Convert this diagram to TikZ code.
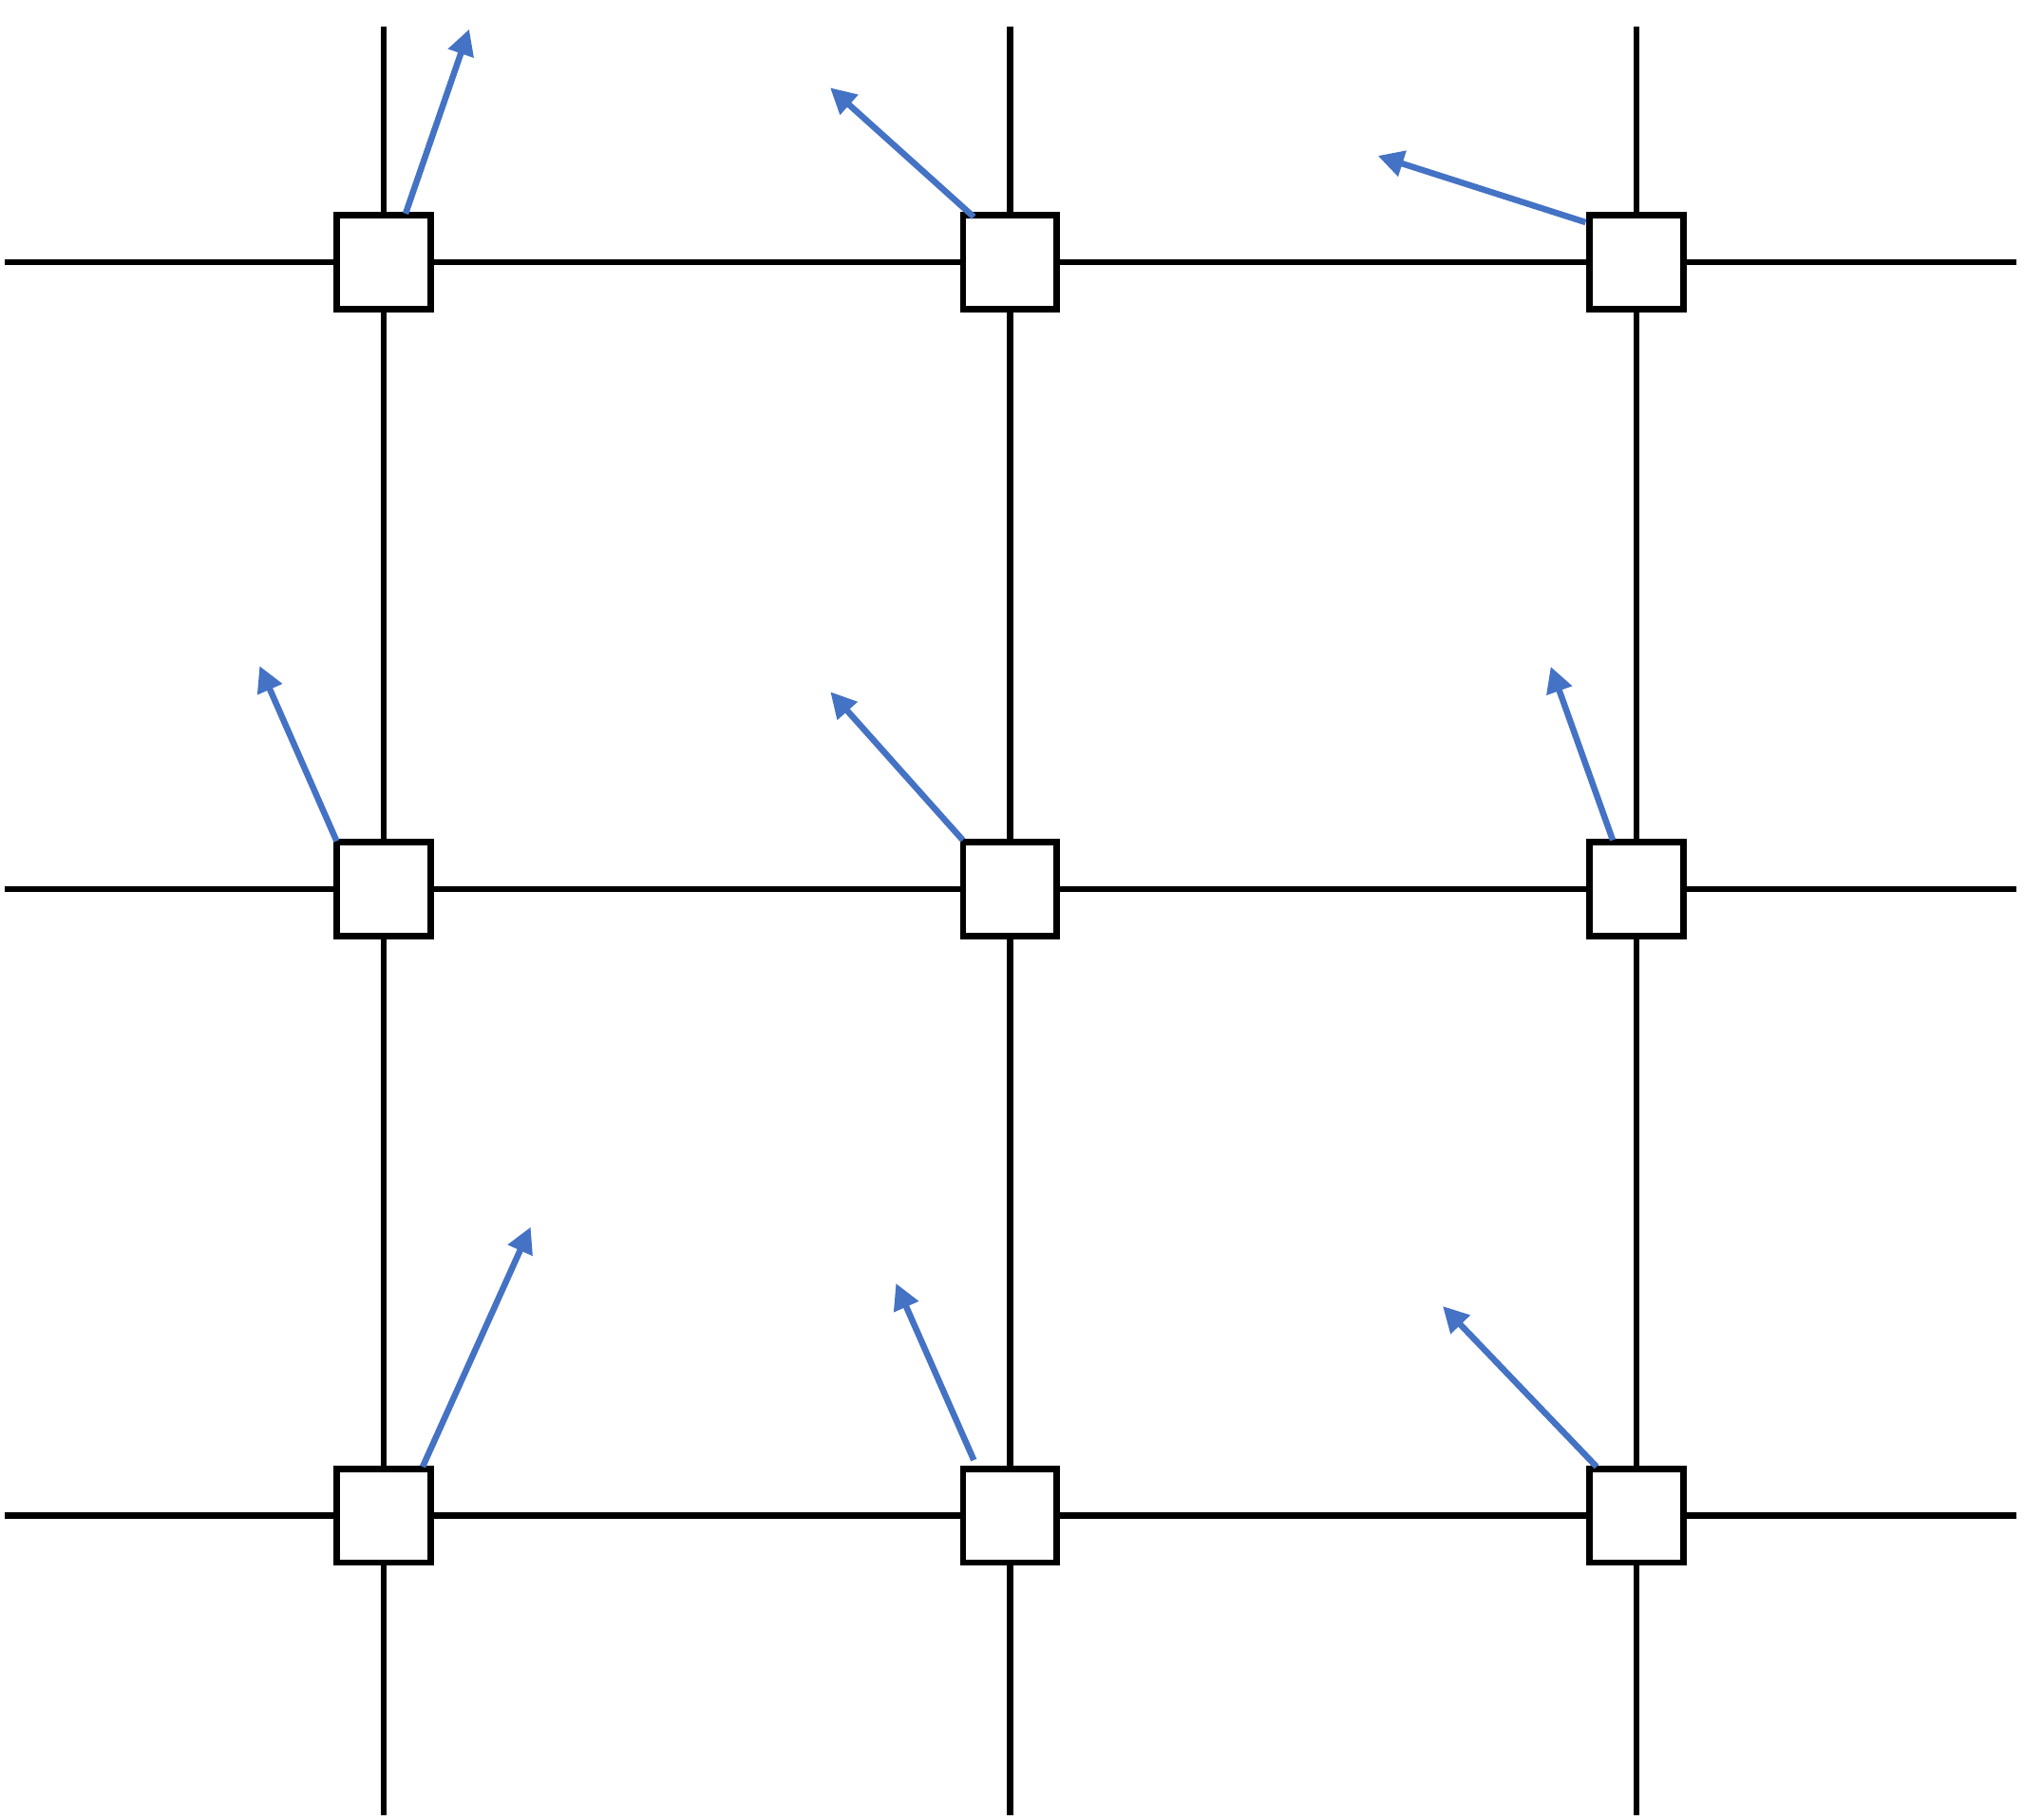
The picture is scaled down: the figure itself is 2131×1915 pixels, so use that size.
\documentclass[tikz,border=0pt]{standalone}
\usetikzlibrary{arrows.meta}
\definecolor{vecblue}{HTML}{4472C4}
\tikzset{
  cell/.style={draw=black, line width=6.7pt, fill=white, minimum size=98.5pt, inner sep=0pt},
  gridline/.style={draw=black, line width=6.7pt},
  vec/.style={draw=vecblue, line width=6.5pt, -{Triangle[length=27pt,width=27pt]}}
}
\begin{document}
\begin{tikzpicture}[x=1pt,y=-1pt]
\useasboundingbox[fill=white] (0,0) rectangle (2131,1915);
% grid line end points
\coordinate (hl0) at (5,276);   \coordinate (hr0) at (2123,276);
\coordinate (hl1) at (5,936);   \coordinate (hr1) at (2123,936);
\coordinate (hl2) at (5,1595.7);\coordinate (hr2) at (2123,1595.7);
\coordinate (vt0) at (404,28);    \coordinate (vb0) at (404,1911);
\coordinate (vt1) at (1063.3,28); \coordinate (vb1) at (1063.3,1911);
\coordinate (vt2) at (1723,28);   \coordinate (vb2) at (1723,1911);
% boxes
\node[cell] (b00) at (404,276) {};
\node[cell] (b10) at (1063.3,276) {};
\node[cell] (b20) at (1723,276) {};
\node[cell] (b01) at (404,936) {};
\node[cell] (b11) at (1063.3,936) {};
\node[cell] (b21) at (1723,936) {};
\node[cell] (b02) at (404,1595.7) {};
\node[cell] (b12) at (1063.3,1595.7) {};
\node[cell] (b22) at (1723,1595.7) {};
% grid lines
\draw[gridline] (hl0) -- (b00) -- (b10) -- (b20) -- (hr0);
\draw[gridline] (hl1) -- (b01) -- (b11) -- (b21) -- (hr1);
\draw[gridline] (hl2) -- (b02) -- (b12) -- (b22) -- (hr2);
\draw[gridline] (vt0) -- (b00) -- (b01) -- (b02) -- (vb0);
\draw[gridline] (vt1) -- (b10) -- (b11) -- (b12) -- (vb1);
\draw[gridline] (vt2) -- (b20) -- (b21) -- (b22) -- (vb2);
% vector tips
\coordinate (t00) at (494,30.7);
\coordinate (t10) at (874,92.3);
\coordinate (t20) at (1450.7,164);
\coordinate (t01) at (273.3,701);
\coordinate (t11) at (874.3,728.3);
\coordinate (t21) at (1632.7,701.7);
\coordinate (t02) at (558.7,1291.7);
\coordinate (t12) at (943.3,1351);
\coordinate (t22) at (1519,1375);
% vectors
\draw[vec] ([xshift=23pt,yshift=-1.5pt]b00.north) -- (t00);
\draw[vec] ([xshift=-38pt,yshift=-5pt]b10.north) -- (t10);
\draw[vec] ([xshift=-1pt,yshift=42pt]b20.west) -- (t20);
\draw[vec] ([xshift=3pt,yshift=-2pt]b01.north west) -- (t01);
\draw[vec] ([xshift=3pt,yshift=-1pt]b11.north west) -- (t11);
\draw[vec] ([xshift=-25pt,yshift=-1pt]b21.north) -- (t21);
\draw[vec] ([xshift=41pt,yshift=-1pt]b02.north) -- (t02);
\draw[vec] ([xshift=-38pt,yshift=6pt]b12.north) -- (t12);
\draw[vec] ([xshift=-42pt,yshift=-1pt]b22.north) -- (t22);
\end{tikzpicture}
\end{document}
